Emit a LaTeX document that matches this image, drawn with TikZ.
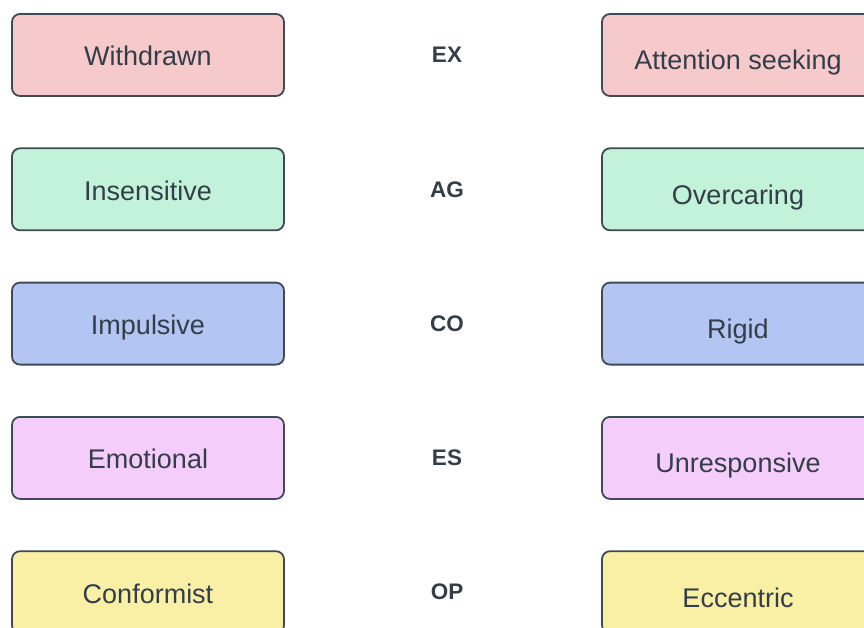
\documentclass[tikz,border=0pt]{standalone}
\usepackage{fontspec}
\setmainfont{Liberation Sans}
\usetikzlibrary{positioning}

\definecolor{edge}{HTML}{3F4A54}
\definecolor{ink}{HTML}{333E48}
\definecolor{exbox}{HTML}{F6C9CB}
\definecolor{agbox}{HTML}{C3F2DA}
\definecolor{cobox}{HTML}{B2C5F3}
\definecolor{esbox}{HTML}{F4CDFB}
\definecolor{opbox}{HTML}{F9F0A6}

\begin{document}
\begin{tikzpicture}[x=1pt, y=-1pt,
  trait/.style={draw=edge, line width=1.8pt, rounded corners=8pt,
    minimum width=272pt, minimum height=82pt, text=ink,
    font=\fontsize{27}{32}\selectfont, text height=28pt, text depth=6pt},
  traitlow/.style={trait, text height=36pt},
  factor/.style={text=ink, font=\bfseries\fontsize{22.5}{27}\selectfont}]
\useasboundingbox (0,0) rectangle (864,628);
\clip (0,0) rectangle (864,628);
\foreach \lo/\hi/\tag/\col [count=\i] in {Withdrawn/Attention seeking/EX/exbox,
    Insensitive/Overcaring/AG/agbox, Impulsive/Rigid/CO/cobox,
    Emotional/Unresponsive/ES/esbox, Conformist/Eccentric/OP/opbox}
{
    \node[trait, fill=\col] (lo\i) at (148, {55+134.3*(\i-1)}) {\lo};
    \node[factor] (f\i) at (447, {55+134.3*(\i-1)}) {\tag};
    \node[traitlow, fill=\col] (hi\i) at (738, {55+134.3*(\i-1)}) {\hi};
}
\end{tikzpicture}
\end{document}
